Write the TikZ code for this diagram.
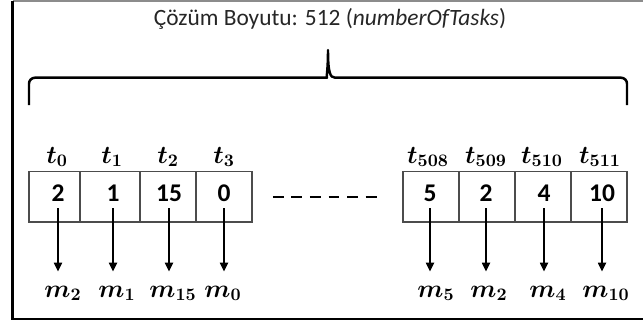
\documentclass[tikz,border=0pt]{standalone}
\usepackage[no-math]{fontspec}
\setmainfont{Carlito}
\usetikzlibrary{arrows.meta}
\tikzset{
  every picture/.style={line width=0.8pt},
  cell/.style={draw=black!70, line width=0.8pt, inner sep=0pt, outer sep=0pt, minimum height=1.006cm, minimum width=#1},
  cell/.default=1.12cm,
  val/.style={font=\fontsize{14.5}{16}\selectfont\bfseries, inner sep=0pt},
  lab/.style={font=\fontsize{14.7}{17}\selectfont\boldmath, anchor=base, inner sep=0pt},
  arrow/.style={-{Triangle[length=5pt, width=4.5pt]}, line width=1.1pt, shorten <=3.5pt, shorten >=7.7pt},
  title/.style={font=\fontsize{13.3}{15}\selectfont, anchor=base, text=black!85},
}

\begin{document}
\begin{tikzpicture}[x=0.02cm, y=-0.02cm, brace/.style={line width=1.4pt, line join=round},
  gap/.style={line width=1.5pt, dash pattern=on 6.24pt off 4.31pt, shorten <=11.9pt, shorten >=14.7pt}]
  \useasboundingbox (0,0) rectangle (643,325);
  % frame
  \draw[black!45, line width=0.6pt] (12.7,1) -- (643,1);
  \draw[line width=1.4pt] (12.7,1) -- (12.7,319) -- (643,319);
  \node[title] (ttl) at (330,25) {Çözüm Boyutu: 512 (\textit{numberOfTasks})};
  \draw[brace] (29,105) [rounded corners=3.4pt] -- (29,77.7) -- (321,77.7) [sharp corners]
    .. controls (326,77.7) and (328,72) .. (328,50) .. controls (328,72) and (330,77.7) .. (335,77.7)
    [rounded corners=3.4pt] -- (627,77.7) -- (627,105);
  % first four genes
  \node[cell=1.02cm] (c0) at (54.5,196.85) {};
  \node[cell=1.2cm] (c1) at (110,196.85) {};
  \node[cell] (c2) at (168,196.85) {};
  \node[cell] (c3) at (224,196.85) {};
  \node[val] (v0) at (58,193) {2};
  \node[val] (v1) at (113,193) {1};
  \node[val] (v2) at (169,193) {15};
  \node[val] (v3) at (224,193) {0};
  \node[lab] (t0) at (57,163) {$t_0$};
  \node[lab] (t1) at (112,163) {$t_1$};
  \node[lab] (t2) at (168,163) {$t_2$};
  \node[lab] (t3) at (224,163) {$t_3$};
  \node[lab] (m0) at (63,297) {$m_2$};
  \node[lab] (m1) at (117,297) {$m_1$};
  \node[lab] (m2) at (173,297) {$m_{15}$};
  \node[lab] (m3) at (223,297) {$m_0$};
  % last four genes
  \node[cell] (c4) at (431,196.85) {};
  \node[cell] (c5) at (487,196.85) {};
  \node[cell] (c6) at (543,196.85) {};
  \node[cell] (c7) at (599,196.85) {};
  \node[val] (v4) at (430,193) {5};
  \node[val] (v5) at (486,193) {2};
  \node[val] (v6) at (544,193) {4};
  \node[val] (v7) at (602,193) {10};
  \node[lab] (t4) at (428,163) {$t_{508}$};
  \node[lab] (t5) at (486,163) {$t_{509}$};
  \node[lab] (t6) at (542,163) {$t_{510}$};
  \node[lab] (t7) at (600,163) {$t_{511}$};
  \node[lab] (m4) at (436,297) {$m_5$};
  \node[lab] (m5) at (489,297) {$m_2$};
  \node[lab] (m6) at (548,297) {$m_4$};
  \node[lab] (m7) at (606,297) {$m_{10}$};
  \draw[gap] (c3.east) -- (c4.west);
  % gene -> machine
  \draw[arrow] (v0) -- (v0 |- m0.north); \draw[arrow] (v1) -- (v1 |- m1.north);
  \draw[arrow] (v2) -- (v2 |- m2.north); \draw[arrow] (v3) -- (v3 |- m3.north);
  \draw[arrow] (v4) -- (v4 |- m4.north); \draw[arrow] (v5) -- (v5 |- m5.north);
  \draw[arrow] (v6) -- (v6 |- m6.north); \draw[arrow] (v7) -- (v7 |- m7.north);
\end{tikzpicture}
\end{document}
